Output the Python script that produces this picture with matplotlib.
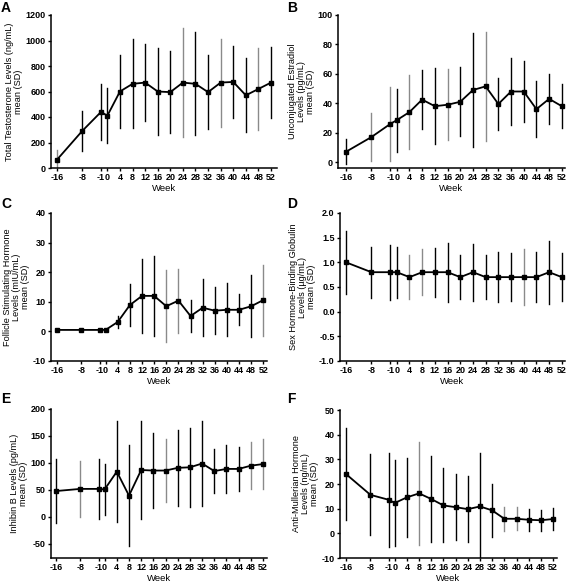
import numpy as np
import matplotlib
matplotlib.use("Agg")
import matplotlib.pyplot as plt

plt.rcParams['font.family'] = ['Liberation Sans', 'DejaVu Sans']

# study weeks (shared x axis)
weeks = [-16, -8, -1, 0, 4, 8, 12, 16, 20, 24, 28, 32, 36, 40, 44, 48, 52]
week_labels = [str(w) for w in weeks]

# A: total testosterone (ng/mL)
testo_mean = [65, 290, 440, 410, 600, 660, 670, 600, 595, 670, 660, 595, 670, 675, 570, 620, 670]
testo_sd = [75, 160, 220, 215, 290, 350, 305, 345, 320, 430, 405, 290, 345, 280, 290, 325, 280]
testo_gray = [-16, 24, 36, 48]

# B: unconjugated estradiol (pg/mL)
e2_mean = [7, 17, 26, 28.5, 34, 42.5, 38, 39, 41, 49, 51.5, 39.5, 48, 48, 36, 43, 38]
e2_sd = [8.5, 16.5, 25, 21.5, 25, 20, 26, 24, 23.5, 39, 37, 18, 23, 21, 19, 17, 15]
e2_gray = [-8, -1, 4, 16, 28]

# C: follicle stimulating hormone (mIU/mL)
fsh_mean = [0.5, 0.5, 0.5, 0.5, 3.2, 8.9, 12, 12, 8.5, 10.4, 5.2, 8, 7, 7.3, 7.3, 8.5, 10.6]
fsh_sd = [0.2, 0.2, 0.2, 0.2, 2, 7.2, 12.6, 13.5, 12.2, 10.8, 5.5, 9.6, 8, 8.9, 5.2, 10.4, 12]
fsh_gray = [20, 24, 52]

# D: sex hormone-binding globulin (ug/mL)
shbg_mean = [1.0, 0.8, 0.8, 0.8, 0.7, 0.8, 0.8, 0.8, 0.7, 0.8, 0.7, 0.7, 0.7, 0.7, 0.7, 0.8, 0.7]
shbg_sd = [0.64, 0.52, 0.56, 0.52, 0.45, 0.47, 0.5, 0.6, 0.44, 0.58, 0.44, 0.5, 0.48, 0.57, 0.5, 0.64, 0.48]
shbg_gray = [4, 8, 40]

# E: inhibin B (pg/mL)
inh_mean = [48, 52, 52, 51, 84, 39.5, 87, 86, 86, 91, 92, 99, 85, 89, 89, 95, 98]
inh_sd = [59, 52, 55, 47, 93, 93, 91, 70, 59, 71, 73, 79, 40, 44, 40, 43, 46]
inh_gray = [-8, 20, 48, 52]

# F: anti-mullerian hormone (ng/mL)
amh_mean = [24, 15.6, 13.6, 12.3, 14.6, 16.2, 13.9, 11.3, 10.6, 9.8, 10.9, 9.3, 5.9, 5.9, 5.5, 5.3, 5.8]
amh_sd = [18.7, 16.4, 19, 17.5, 16, 21, 17.5, 15, 13.4, 13.5, 21.7, 10.6, 4.9, 4.7, 4.5, 4.3, 4.5]
amh_gray = [8, 36, 40]

# "-1" sits a little left of where a linear axis would put it
xpos = [w if w != -1 else -2 for w in weeks]

fig = plt.figure(figsize=(5.67, 5.83), dpi=100)
W, H = 567, 583


def px_axes(left, top, right, bottom):
    return fig.add_axes([left / W, 1 - bottom / H, (right - left) / W, (bottom - top) / H])


panels = [
    # letter, box (l, t, r, b), xlim, ylim, yticks, fmt, ylabel, data
    ("A", (51, 15, 277, 168), (-17.9, 53.9), (0, 1200), np.arange(0, 1201, 200), "{:.0f}",
     "Total Testosterone Levels (ng/mL)\nmean (SD)", testo_mean, testo_sd, testo_gray),
    ("B", (338, 15, 565, 168), (-18.5, 53), (-4, 100), np.arange(0, 101, 20), "{:.0f}",
     "Unconjugated Estradiol\nLevels (pg/mL)\nmean (SD)", e2_mean, e2_sd, e2_gray),
    ("C", (51, 213, 267, 361), (-18, 53.2), (-10, 40), np.arange(-10, 41, 10), "{:.0f}",
     "Follicle Stimulating Hormone\nLevels (mIU/mL)\nmean (SD)", fsh_mean, fsh_sd, fsh_gray),
    ("D", (340, 213, 565, 361), (-17.9, 53), (-1, 2), np.arange(-1, 2.01, 0.5), "{:.1f}",
     "Sex Hormone-Binding Globulin\nLevels (µg/mL)\nmean (SD)", shbg_mean, shbg_sd, shbg_gray),
    ("E", (51, 409, 267, 558), (-17.6, 53.3), (-76, 200), np.arange(-50, 201, 50), "{:.0f}",
     "Inhibin B Levels (pg/mL)\nmean (SD)", inh_mean, inh_sd, inh_gray),
    ("F", (340, 410, 557, 558), (-18, 53.3), (-10, 50), np.arange(-10, 51, 10), "{:.0f}",
     "Anti-Mullerian Hormone\nLevels (ng/mL)\nmean (SD)", amh_mean, amh_sd, amh_gray),
]

letter_pos = {"A": (1, 1), "B": (287, 1), "C": (1, 197), "D": (287, 197), "E": (1, 392), "F": (287, 392)}

for letter, box, xl, yl, yt, fmt, ylab, mean, sd, gray in panels:
    ax = px_axes(*box)
    mean = np.array(mean)
    sd = np.array(sd)
    for x, w, m, s in zip(xpos, weeks, mean, sd):
        col = "#8a8a8a" if w in gray else "black"
        ax.plot([x, x], [m - s, m + s], color=col, lw=1.0, zorder=1, clip_on=True)
    ax.plot(xpos, mean, color="black", lw=1.3, marker="s", ms=3.3, zorder=3)
    ax.set_xlim(*xl)
    ax.set_ylim(*yl)
    ax.set_xticks(xpos)
    ax.set_xticklabels(week_labels)
    ax.set_yticks(yt)
    ax.set_yticklabels([fmt.format(v) for v in yt])
    for side in ("top", "right"):
        ax.spines[side].set_visible(False)
    for side in ("left", "bottom"):
        ax.spines[side].set_linewidth(1.1)
    ax.tick_params(length=2.3, width=1, pad=1.5, labelsize=6.5)
    for lab in ax.get_xticklabels() + ax.get_yticklabels():
        lab.set_fontweight("bold")
    ax.set_xlabel("Week", fontsize=6.8, labelpad=1)
    ax.set_ylabel(ylab, fontsize=6.6, labelpad=2, linespacing=1.0)
    lx, ly = letter_pos[letter]
    fig.text(lx / W, 1 - ly / H, letter, fontsize=10, fontweight="bold", va="top", ha="left")

fig.savefig("out.png", dpi=100)
